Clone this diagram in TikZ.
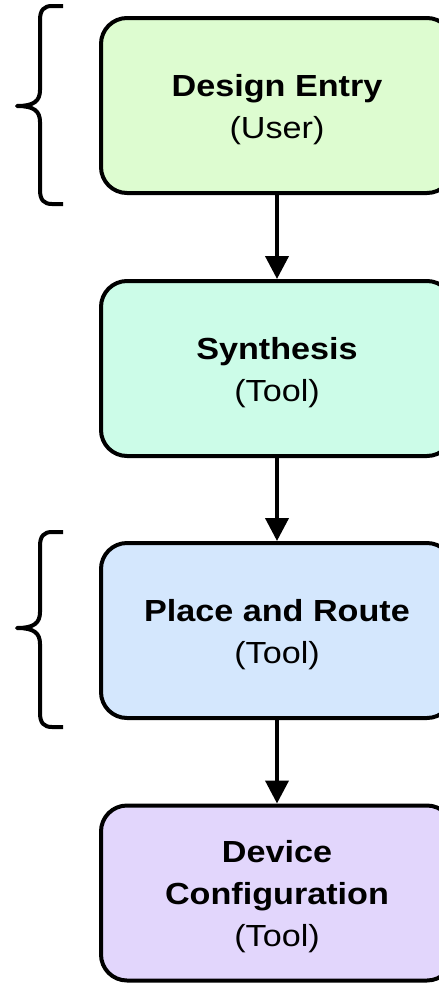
\documentclass[tikz,border=0pt]{standalone}
\usepackage{fontspec}
\setmainfont{Liberation Sans}[FakeStretch=1.12]
\usetikzlibrary{arrows.meta}

\definecolor{entryfill}{HTML}{DDFCD0}
\definecolor{synthfill}{HTML}{CCFCE8}
\definecolor{parfill}{HTML}{D4E7FD}
\definecolor{cfgfill}{HTML}{E2D6FC}

% extra room above the first line, so the text sits a little low in its box
\newcommand{\firstlinelift}{\rule{0pt}{30pt}}

\tikzset{
  stagebox/.style={draw=black, line width=4pt, rounded corners=26pt,
    minimum width=352pt, minimum height=175pt, align=center,
    inner sep=0pt, font=\fontsize{30.5}{42}\selectfont},
  flow/.style={line width=4pt, -{Triangle[width=23pt,length=23pt]}},
  bracket/.style={line width=4pt, line cap=butt, line join=round}
}

\begin{document}
\begin{tikzpicture}[x=1pt, y=-1pt]
  \useasboundingbox (0,0) rectangle (439,986);
  \clip (0,0) rectangle (439,986);

  % the four stages of the flow
  \node[stagebox, fill=entryfill] (entry) at (277,105.5)
    {\firstlinelift\textbf{Design Entry}\\(User)};
  \node[stagebox, fill=synthfill] (synth) at (277,368.5)
    {\firstlinelift\textbf{Synthesis}\\(Tool)};
  \node[stagebox, fill=parfill] (par) at (277,630.5)
    {\firstlinelift\textbf{Place and Route}\\(Tool)};
  \node[stagebox, fill=cfgfill] (cfg) at (277,893)
    {\firstlinelift\textbf{Device}\\\textbf{Configuration}\\(Tool)};

  % connectors between stages
  \draw[flow] (entry) -- (synth);
  \draw[flow] (synth) -- (par);
  \draw[flow] (par) -- (cfg);

  % curly brackets on the left
  \draw[bracket] (63,6) -- (52,6) .. controls (44,6) and (40,10) .. (40,20)
    -- (40,90) .. controls (40,101) and (34,106) .. (17,106)
    .. controls (34,106) and (40,111) .. (40,122)
    -- (40,190) .. controls (40,200) and (44,204) .. (52,204) -- (63,204);
  \draw[bracket] (63,532) -- (52,532) .. controls (44,532) and (40,536) .. (40,546)
    -- (40,612) .. controls (40,623) and (34,628) .. (17,628)
    .. controls (34,628) and (40,633) .. (40,644)
    -- (40,713) .. controls (40,723) and (44,727) .. (52,727) -- (63,727);
\end{tikzpicture}
\end{document}
